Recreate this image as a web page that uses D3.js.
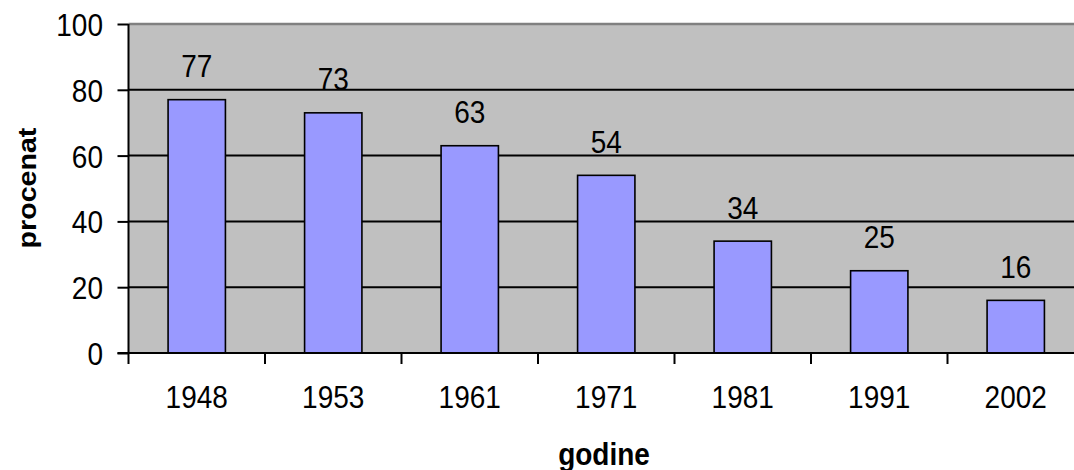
<html>
<head>
<script src="https://d3js.org/d3.v7.min.js"></script>
<style>
  body { margin: 0; background: white; }
  text { font-family: "Liberation Sans", Arial, sans-serif; fill: #000; }
</style>
</head>
<body>
<svg id="chart" width="1074" height="470"></svg>
<script>
// chart data
var years = ['1948', '1953', '1961', '1971', '1981', '1991', '2002'];
var percent = [77, 73, 63, 54, 34, 25, 16];
var yTicks = [0, 20, 40, 60, 80, 100];

var svg = d3.select('#chart');
var pLeft = 128.5, pRight = 1084, pTop = 24, pBottom = 353;
var fs = 28, stretch = 1.1;

var x = d3.scaleBand().domain(years).range([pLeft, pRight]).padding(0);
var y = d3.scaleLinear().domain([0, 100]).range([pBottom, pTop]);

// plot area
svg.append('rect')
  .attr('x', pLeft).attr('y', pTop)
  .attr('width', pRight - pLeft).attr('height', pBottom - pTop)
  .attr('fill', '#C0C0C0');

// gridlines
svg.selectAll('.grid')
  .data(yTicks.filter(d => d > 0 && d < 100))
  .enter().append('line')
  .attr('x1', pLeft).attr('x2', pRight)
  .attr('y1', d => y(d)).attr('y2', d => y(d))
  .attr('stroke', '#000').attr('stroke-width', 2);

// top border
svg.append('line')
  .attr('x1', pLeft).attr('x2', pRight)
  .attr('y1', y(100)).attr('y2', y(100))
  .attr('stroke', '#808080').attr('stroke-width', 2.5);

// bars
var bw = x.bandwidth() * 0.42;
svg.selectAll('.bar')
  .data(percent)
  .enter().append('rect')
  .attr('x', (d, i) => x(years[i]) + x.bandwidth() / 2 - bw / 2)
  .attr('y', d => y(d))
  .attr('width', bw)
  .attr('height', d => pBottom - y(d))
  .attr('fill', '#9999FF')
  .attr('stroke', '#000').attr('stroke-width', 1.6);

// value labels
svg.selectAll('.val')
  .data(percent)
  .enter().append('text')
  .attr('text-anchor', 'middle')
  .attr('font-size', fs)
  .attr('transform', (d, i) => 'translate(' + (x(years[i]) + x.bandwidth() / 2) + ',' + (y(d) - 22.5) + ') scale(1,' + stretch + ')')
  .text(d => d);

// y axis
var yAxis = svg.append('g').attr('transform', 'translate(' + pLeft + ',0)')
  .call(d3.axisLeft(y).tickValues(yTicks).tickSize(11).tickPadding(0).tickFormat(d3.format('d')));
yAxis.select('.domain').remove();
yAxis.selectAll('line').attr('stroke', '#000').attr('stroke-width', 2);
yAxis.selectAll('text').remove();
yAxis.append('line').attr('x1', 0).attr('x2', 0).attr('y1', pTop).attr('y2', pBottom + 1)
  .attr('stroke', '#000').attr('stroke-width', 2);

svg.selectAll('.ylab')
  .data(yTicks)
  .enter().append('text')
  .attr('text-anchor', 'end')
  .attr('font-size', fs)
  .attr('transform', d => 'translate(103,' + (y(d) + 12) + ') scale(1,' + stretch + ')')
  .text(d => d);

// x axis
var xTickPos = d3.range(years.length + 1).map(i => pLeft + i * x.step());
svg.append('line')
  .attr('x1', pLeft - 11).attr('x2', pRight)
  .attr('y1', pBottom).attr('y2', pBottom)
  .attr('stroke', '#000').attr('stroke-width', 2);
svg.selectAll('.xt')
  .data(xTickPos)
  .enter().append('line')
  .attr('x1', d => d).attr('x2', d => d)
  .attr('y1', pBottom).attr('y2', pBottom + 11)
  .attr('stroke', '#000').attr('stroke-width', 2);

svg.selectAll('.xlab')
  .data(years)
  .enter().append('text')
  .attr('text-anchor', 'middle')
  .attr('font-size', fs)
  .attr('transform', d => 'translate(' + (x(d) + x.bandwidth() / 2) + ',408) scale(1,' + stretch + ')')
  .text(d => d);

// axis titles
svg.append('text')
  .attr('text-anchor', 'middle')
  .attr('font-size', 26).attr('font-weight', 'bold')
  .attr('transform', 'translate(36,188) rotate(-90) scale(' + stretch + ',1)')
  .text('procenat');

svg.append('text')
  .attr('text-anchor', 'middle')
  .attr('font-size', fs).attr('font-weight', 'bold')
  .attr('transform', 'translate(604,465) scale(1,' + stretch + ')')
  .text('godine');
</script>
</body>
</html>
